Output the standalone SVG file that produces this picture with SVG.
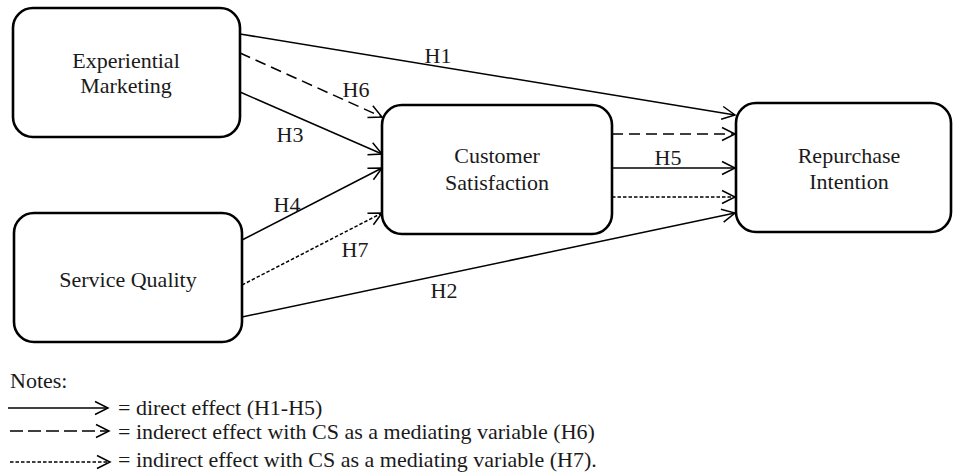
<svg xmlns="http://www.w3.org/2000/svg" width="953" height="472" viewBox="0 0 953 472">
<style>
  .box { fill: #ffffff; stroke: #000; stroke-width: 2.6; }
  .t { font-family: "Liberation Serif", "Times New Roman", serif; font-size: 22px; fill: #1a1a1a; }
  .c { text-anchor: middle; }
  .ln { fill: none; stroke: #000; stroke-width: 1.5; }
  .dash { stroke-dasharray: 11 6; }
  .dot { stroke-dasharray: 3.5 2; }
  .ldash { stroke-dasharray: 13 5; }
</style>
<defs>
  <marker id="arr" markerUnits="userSpaceOnUse" markerWidth="16" markerHeight="16" refX="14" refY="7" orient="auto" overflow="visible">
    <path d="M1,0.5 L14,7 L1,13.5" fill="none" stroke="#000" stroke-width="1.5"/>
  </marker>
</defs>
<rect width="953" height="472" fill="#ffffff"/>

<g id="connectors">
  <line class="ln" x1="240" y1="34" x2="735" y2="115" marker-end="url(#arr)"/>
  <line class="ln dash" x1="240" y1="53" x2="382" y2="117" marker-end="url(#arr)"/>
  <line class="ln" x1="240" y1="92" x2="382" y2="154" marker-end="url(#arr)"/>
  <line class="ln" x1="242" y1="240" x2="382" y2="168" marker-end="url(#arr)"/>
  <line class="ln dot" x1="242" y1="285" x2="382" y2="213" marker-end="url(#arr)"/>
  <line class="ln" x1="242" y1="317" x2="735" y2="213" marker-end="url(#arr)"/>
  <line class="ln dash" x1="612" y1="134" x2="735" y2="134" marker-end="url(#arr)"/>
  <line class="ln" x1="612" y1="168" x2="735" y2="168" marker-end="url(#arr)"/>
  <line class="ln dot" x1="612" y1="197" x2="735" y2="197" marker-end="url(#arr)"/>
  <text class="t c" x="438" y="63">H1</text>
  <text class="t c" x="356" y="97">H6</text>
  <text class="t c" x="290" y="142">H3</text>
  <text class="t c" x="287" y="212">H4</text>
  <text class="t c" x="355" y="257">H7</text>
  <text class="t c" x="444" y="298">H2</text>
  <text class="t c" x="668" y="165">H5</text>
</g>

<g id="experiential-marketing">
  <rect class="box" x="13" y="8" width="227" height="129" rx="20"/>
  <text class="t c" x="126" y="68">Experiential</text>
  <text class="t c" x="126" y="93">Marketing</text>
</g>
<g id="service-quality">
  <rect class="box" x="14" y="213" width="228" height="129" rx="20"/>
  <text class="t c" x="128" y="287">Service Quality</text>
</g>
<g id="customer-satisfaction">
  <rect class="box" x="382" y="105" width="230" height="129" rx="20"/>
  <text class="t c" x="497" y="163">Customer</text>
  <text class="t c" x="497" y="190">Satisfaction</text>
</g>
<g id="repurchase-intention">
  <rect class="box" x="736" y="103" width="215" height="129" rx="20"/>
  <text class="t c" x="849" y="163">Repurchase</text>
  <text class="t c" x="849" y="189">Intention</text>
</g>

<g id="legend">
  <text class="t" x="10" y="388">Notes:</text>
  <line class="ln" x1="8" y1="408" x2="108" y2="408" marker-end="url(#arr)"/>
  <text class="t" x="118" y="415">= direct effect (H1-H5)</text>
  <line class="ln ldash" x1="10" y1="431" x2="109" y2="431" marker-end="url(#arr)"/>
  <text class="t" x="118" y="439">= inderect effect with CS as a mediating variable (H6)</text>
  <line class="ln dot" x1="10" y1="462" x2="110" y2="462" marker-end="url(#arr)"/>
  <text class="t" x="118" y="467">= indirect effect with CS as a mediating variable (H7).</text>
</g>
</svg>
